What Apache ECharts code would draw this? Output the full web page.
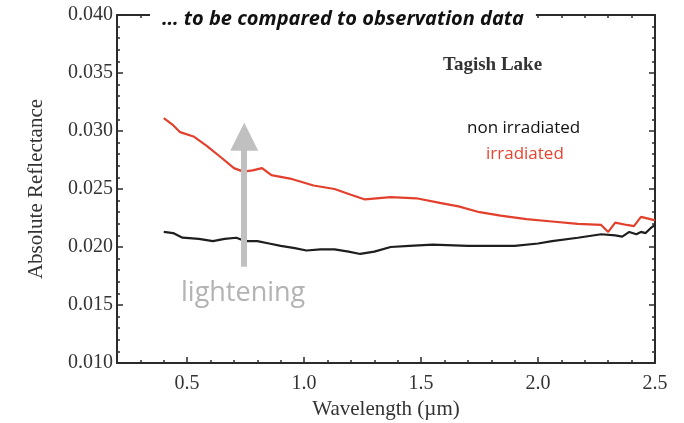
<!DOCTYPE html>
<html>
<head>
<meta charset="utf-8">
<script src="https://cdn.jsdelivr.net/npm/echarts@6/dist/echarts.min.js"></script>
<style>
  html, body { margin: 0; padding: 0; background: #fff; }
  #main { width: 684px; height: 423px; }
</style>
</head>
<body>
<div id="main"></div>
<script>
// irradiated spectrum (red)
var irrWl = [0.40, 0.44, 0.47, 0.53, 0.585, 0.64, 0.70, 0.74, 0.78, 0.82, 0.86, 0.94, 1.04, 1.13, 1.20, 1.26, 1.37, 1.48, 1.58, 1.66, 1.75, 1.84, 1.95, 2.06, 2.17, 2.27, 2.30, 2.33, 2.38, 2.41, 2.44, 2.48, 2.50];
var irrRef = [0.0311, 0.0305, 0.0299, 0.0295, 0.0287, 0.0278, 0.0268, 0.0265, 0.0266, 0.0268, 0.0262, 0.0259, 0.0253, 0.0250, 0.0245, 0.0241, 0.0243, 0.0242, 0.0238, 0.0235, 0.0230, 0.0227, 0.0224, 0.0222, 0.0220, 0.0219, 0.0213, 0.0221, 0.0219, 0.0218, 0.0226, 0.0224, 0.0223];
// non irradiated spectrum (black)
var rawWl = [0.40, 0.44, 0.48, 0.55, 0.61, 0.66, 0.71, 0.75, 0.80, 0.85, 0.90, 0.96, 1.01, 1.07, 1.13, 1.19, 1.24, 1.30, 1.37, 1.45, 1.55, 1.70, 1.90, 2.00, 2.06, 2.17, 2.27, 2.33, 2.36, 2.39, 2.42, 2.44, 2.46, 2.48, 2.50];
var rawRef = [0.0213, 0.0212, 0.0208, 0.0207, 0.0205, 0.0207, 0.0208, 0.0205, 0.0205, 0.0203, 0.0201, 0.0199, 0.0197, 0.0198, 0.0198, 0.0196, 0.0194, 0.0196, 0.0200, 0.0201, 0.0202, 0.0201, 0.0201, 0.0203, 0.0205, 0.0208, 0.0211, 0.0210, 0.0209, 0.0213, 0.0211, 0.0213, 0.0212, 0.0216, 0.0219];
// "lightening" arrow, in data units
var arrowFrom = [0.744, 0.0183];
var arrowTo = [0.744, 0.0295];

function pairs(xs, ys) {
  return xs.map(function (x, i) { return [x, ys[i]]; });
}

var serif = 'Liberation Serif';
var ink = '#2b2b2b';

var myChart = echarts.init(document.getElementById('main'));
myChart.setOption({
  animation: false,
  title: {
    text: '\u2026 to be compared to observation data',
    left: 150,
    top: 5,
    padding: [4, 12],
    backgroundColor: '#fff',
    textStyle: { fontFamily: 'Open Sans', fontStyle: 'italic', fontWeight: 'bold', fontSize: 20, color: '#111' }
  },
  grid: [
    { left: 117, right: 29, top: 15, bottom: 60, outerBoundsMode: 'none', containLabel: false },
    { left: 187, right: 29, top: 15, bottom: 60, outerBoundsMode: 'none', containLabel: false }
  ],
  xAxis: [
    {
      gridIndex: 0, type: 'value', min: 0.2, max: 2.5, interval: 0.1, position: 'bottom',
      axisLine: { lineStyle: { color: ink, width: 2 } },
      axisTick: { inside: true, length: 3, lineStyle: { color: ink, width: 1.5 } },
      axisLabel: { show: false }, splitLine: { show: false },
      name: 'Wavelength (\u00b5m)', nameLocation: 'middle', nameGap: 36,
      nameTextStyle: { fontFamily: serif, fontSize: 21, color: '#333' }
    },
    {
      gridIndex: 0, type: 'value', min: 0.2, max: 2.5, interval: 0.1, position: 'top',
      axisLine: { lineStyle: { color: ink, width: 2 } },
      axisTick: { inside: true, length: 3, lineStyle: { color: ink, width: 1.5 } },
      axisLabel: { show: false }, splitLine: { show: false }
    },
    {
      gridIndex: 1, type: 'value', min: 0.5, max: 2.5, interval: 0.5, position: 'bottom',
      axisLine: { show: false },
      axisTick: { inside: true, length: 6, lineStyle: { color: ink, width: 1.5 } },
      axisLabel: {
        margin: 11, fontFamily: serif, fontSize: 20, color: '#333',
        formatter: function (v) { return v.toFixed(1); }
      },
      splitLine: { show: false }
    }
  ],
  yAxis: [
    {
      gridIndex: 0, type: 'value', min: 0.010, max: 0.040, interval: 0.005, position: 'left',
      axisLine: { lineStyle: { color: ink, width: 2 } },
      axisTick: { inside: true, length: 6, lineStyle: { color: ink, width: 1.5 } },
      minorTick: { show: true, splitNumber: 5, length: 3, lineStyle: { color: ink, width: 1.5 } },
      axisLabel: {
        margin: 4, fontFamily: serif, fontSize: 20, color: '#333',
        formatter: function (v) { return v.toFixed(3); }
      },
      splitLine: { show: false },
      name: 'Absolute Reflectance', nameLocation: 'middle', nameGap: 70,
      nameTextStyle: { fontFamily: serif, fontSize: 21, color: '#333' }
    },
    {
      gridIndex: 0, type: 'value', min: 0.010, max: 0.040, interval: 0.005, position: 'right',
      axisLine: { lineStyle: { color: ink, width: 2 } },
      axisTick: { inside: true, length: 6, lineStyle: { color: ink, width: 1.5 } },
      minorTick: { show: true, splitNumber: 5, length: 3, lineStyle: { color: ink, width: 1.5 } },
      axisLabel: { show: false }, splitLine: { show: false }
    },
    {
      gridIndex: 1, type: 'value', min: 0.010, max: 0.040, show: false
    }
  ],
  series: [
    {
      name: 'non irradiated', type: 'line', xAxisIndex: 0, yAxisIndex: 0,
      data: pairs(rawWl, rawRef), showSymbol: false, symbol: 'none',
      lineStyle: { color: '#1e1e1e', width: 2.2 }, z: 3
    },
    {
      name: 'irradiated', type: 'line', xAxisIndex: 0, yAxisIndex: 0,
      data: pairs(irrWl, irrRef), showSymbol: false, symbol: 'none',
      lineStyle: { color: '#e2402c', width: 2.2 }, z: 3,
      markLine: {
        silent: true, z: 4,
        symbol: ['none', 'triangle'], symbolSize: [28, 28],
        label: { show: false },
        lineStyle: { color: '#c0c0c0', width: 6, type: 'solid' },
        data: [[{ coord: arrowFrom }, { coord: arrowTo }]]
      }
    }
  ],
  graphic: [
    {
      type: 'text', left: 443, top: 56, z: 10,
      style: { text: 'Tagish Lake', font: 'bold 19px "Liberation Serif"', fill: '#333' }
    },
    {
      type: 'text', left: 467, top: 120, z: 10,
      style: { text: 'non irradiated', font: '17px "Open Sans"', fill: '#111' }
    },
    {
      type: 'text', left: 486, top: 146, z: 10,
      style: { text: 'irradiated', font: '17px "Open Sans"', fill: '#e8432f' }
    },
    {
      type: 'text', left: 181, top: 280, z: 10,
      style: { text: 'lightening', font: '27px "Open Sans"', fill: '#b3b3b3' }
    }
  ]
});
</script>
</body>
</html>
